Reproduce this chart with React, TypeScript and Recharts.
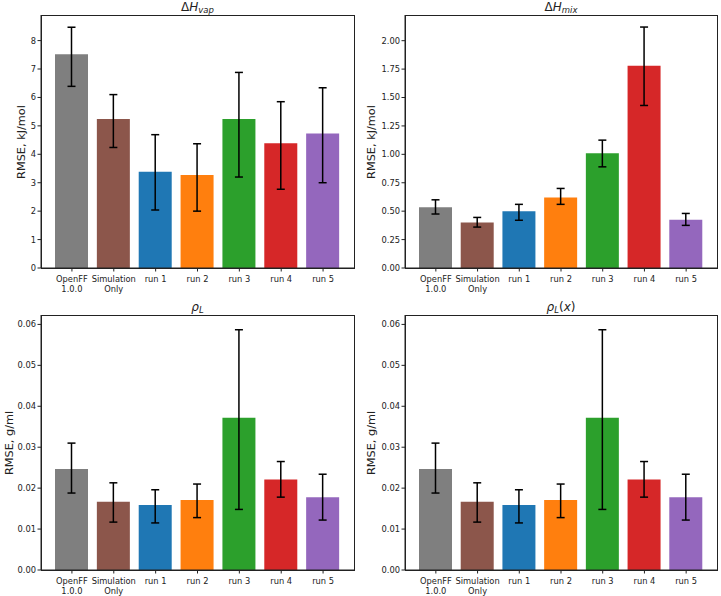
import React from 'react'
import { BarChart, Bar, XAxis, YAxis, ErrorBar, Cell } from 'recharts'

const CATEGORIES = ['OpenFF\n1.0.0', 'Simulation\nOnly', 'run 1', 'run 2', 'run 3', 'run 4', 'run 5']
const BAR_COLORS = ['#7f7f7f', '#8c564b', '#1f77b4', '#ff7f0e', '#2ca02c', '#d62728', '#9467bd']

// ΔH_vap, kJ/mol
const HVAP = [7.52, 5.24, 3.39, 3.27, 5.24, 4.39, 4.73]
const HVAP_LO = [6.39, 4.24, 2.04, 2.0, 3.2, 2.77, 3.0]
const HVAP_HI = [8.47, 6.1, 4.69, 4.37, 6.88, 5.85, 6.34]
const HVAP_TICKS = [0, 1, 2, 3, 4, 5, 6, 7, 8]

// ΔH_mix, kJ/mol
const HMIX = [0.535, 0.4, 0.5, 0.62, 1.01, 1.78, 0.425]
const HMIX_LO = [0.475, 0.36, 0.42, 0.56, 0.89, 1.43, 0.375]
const HMIX_HI = [0.6, 0.445, 0.56, 0.7, 1.125, 2.12, 0.48]
const HMIX_TICKS = [0, 0.25, 0.5, 0.75, 1.0, 1.25, 1.5, 1.75, 2.0]

// rho_L, g/ml
const RHO = [0.0247, 0.0167, 0.0159, 0.0171, 0.0372, 0.0221, 0.0178]
const RHO_LO = [0.0188, 0.0117, 0.0115, 0.0128, 0.0148, 0.0178, 0.0122]
const RHO_HI = [0.031, 0.0213, 0.0196, 0.021, 0.0587, 0.0265, 0.0234]

// rho_L(x), g/ml
const RHOX = [0.0247, 0.0167, 0.0159, 0.0171, 0.0372, 0.0221, 0.0178]
const RHOX_LO = [0.0188, 0.0117, 0.0115, 0.0128, 0.0148, 0.0178, 0.0122]
const RHOX_HI = [0.031, 0.0213, 0.0196, 0.021, 0.0587, 0.0265, 0.0234]
const RHO_TICKS = [0, 0.01, 0.02, 0.03, 0.04, 0.05, 0.06]

const FONT = '"DejaVu Sans", sans-serif'
const INK = '#222'

function CategoryTick({ x, y, payload }: any) {
  const lines = String(payload.value).split('\n')
  return (
    <text x={x} y={y} textAnchor="middle" fontSize={8.3} fill={INK} fontFamily={FONT}>
      {lines.map((line, i) => (
        <tspan key={i} x={x} dy={i === 0 ? 8.5 : 9.5}>
          {line}
        </tspan>
      ))}
    </text>
  )
}

interface PanelProps {
  left: number
  top: number
  width: number
  height: number
  yAxisWidth: number
  marginRight: number
  xAxisHeight: number
  values: number[]
  lo: number[]
  hi: number[]
  yMax: number
  ticks: number[]
  decimals: number
  ylabel: string
  labelX: number
  title: React.ReactNode
}

function Panel(p: PanelProps) {
  const data = CATEGORIES.map((name, i) => ({
    name,
    value: p.values[i],
    err: [p.values[i] - p.lo[i], p.hi[i] - p.values[i]],
  }))
  const plotLeft = p.yAxisWidth
  const plotTop = 15
  const plotW = p.width - p.yAxisWidth - p.marginRight
  const plotH = p.height - plotTop - p.xAxisHeight

  return (
    <div style={{ position: 'absolute', left: p.left, top: p.top, width: p.width, height: p.height }}>
      <BarChart
        width={p.width}
        height={p.height}
        data={data}
        margin={{ top: plotTop, right: p.marginRight, left: 0, bottom: 0 }}
      >
        <XAxis
          dataKey="name"
          interval={0}
          height={p.xAxisHeight}
          padding={{ left: 10, right: 10 }}
          tick={<CategoryTick />}
          tickSize={3.5}
          tickMargin={2}
          axisLine={{ stroke: INK }}
          tickLine={{ stroke: INK }}
        />
        <YAxis
          type="number"
          width={p.yAxisWidth}
          domain={[0, p.yMax]}
          ticks={p.ticks}
          interval={0}
          allowDataOverflow
          tickFormatter={(v: number) => v.toFixed(p.decimals)}
          tick={{ fill: INK, fontSize: 8.3, fontFamily: FONT }}
          tickSize={3.5}
          tickMargin={1.5}
          axisLine={{ stroke: INK }}
          tickLine={{ stroke: INK }}
        />
        <Bar dataKey="value" barSize={33} isAnimationActive={false}>
          {data.map((_, i) => (
            <Cell key={`cell-${i}`} fill={BAR_COLORS[i % BAR_COLORS.length]} />
          ))}
          <ErrorBar dataKey="err" width={4} stroke="#000" strokeWidth={1.5} isAnimationActive={false} />
        </Bar>
      </BarChart>

      {/* frame around the plot area */}
      <div
        style={{
          position: 'absolute',
          left: plotLeft - 0.5,
          top: plotTop - 0.5,
          width: plotW + 1,
          height: plotH + 1,
          border: `1px solid ${INK}`,
          boxSizing: 'border-box',
          pointerEvents: 'none',
        }}
      />

      {/* title */}
      <div
        style={{
          position: 'absolute',
          left: plotLeft + plotW / 2,
          top: 0,
          transform: 'translateX(-50%)',
          fontFamily: FONT,
          fontSize: 12,
          lineHeight: '14px',
          color: INK,
          whiteSpace: 'nowrap',
        }}
      >
        {p.title}
      </div>

      {/* y label */}
      <div
        style={{
          position: 'absolute',
          left: p.labelX,
          top: plotTop + plotH / 2,
          transform: 'translate(-50%, -50%) rotate(-90deg)',
          fontFamily: FONT,
          fontSize: 11.3,
          lineHeight: '13px',
          color: INK,
          whiteSpace: 'nowrap',
        }}
      >
        {p.ylabel}
      </div>
    </div>
  )
}

const sub = { fontSize: 8.5, fontStyle: 'italic' as const, position: 'relative' as const, top: 2 }

export default function App() {
  return (
    <div style={{ position: 'absolute', left: 0, top: 0, width: 721, height: 596, background: '#fff', overflow: 'hidden' }}>
      <Panel
        left={0}
        top={0}
        width={360}
        height={300}
        yAxisWidth={41}
        marginRight={6}
        xAxisHeight={32}
        values={HVAP}
        lo={HVAP_LO}
        hi={HVAP_HI}
        yMax={8.9}
        ticks={HVAP_TICKS}
        decimals={0}
        ylabel="RMSE, kJ/mol"
        labelX={21}
        title={<span>Δ<i>H</i><span style={sub}>vap</span></span>}
      />
      <Panel
        left={360}
        top={0}
        width={361}
        height={300}
        yAxisWidth={45}
        marginRight={4}
        xAxisHeight={32}
        values={HMIX}
        lo={HMIX_LO}
        hi={HMIX_HI}
        yMax={2.226}
        ticks={HMIX_TICKS}
        decimals={2}
        ylabel="RMSE, kJ/mol"
        labelX={10.7}
        title={<span>Δ<i>H</i><span style={sub}>mix</span></span>}
      />
      <Panel
        left={0}
        top={300}
        width={360}
        height={296}
        yAxisWidth={41}
        marginRight={6}
        xAxisHeight={26}
        values={RHO}
        lo={RHO_LO}
        hi={RHO_HI}
        yMax={0.0623}
        ticks={RHO_TICKS}
        decimals={2}
        ylabel="RMSE, g/ml"
        labelX={9}
        title={<span><i>ρ</i><span style={sub}>L</span></span>}
      />
      <Panel
        left={360}
        top={300}
        width={361}
        height={296}
        yAxisWidth={45}
        marginRight={4}
        xAxisHeight={26}
        values={RHOX}
        lo={RHOX_LO}
        hi={RHOX_HI}
        yMax={0.0623}
        ticks={RHO_TICKS}
        decimals={2}
        ylabel="RMSE, g/ml"
        labelX={10.7}
        title={<span><i>ρ</i><span style={sub}>L</span>(<i>x</i>)</span>}
      />
    </div>
  )
}
